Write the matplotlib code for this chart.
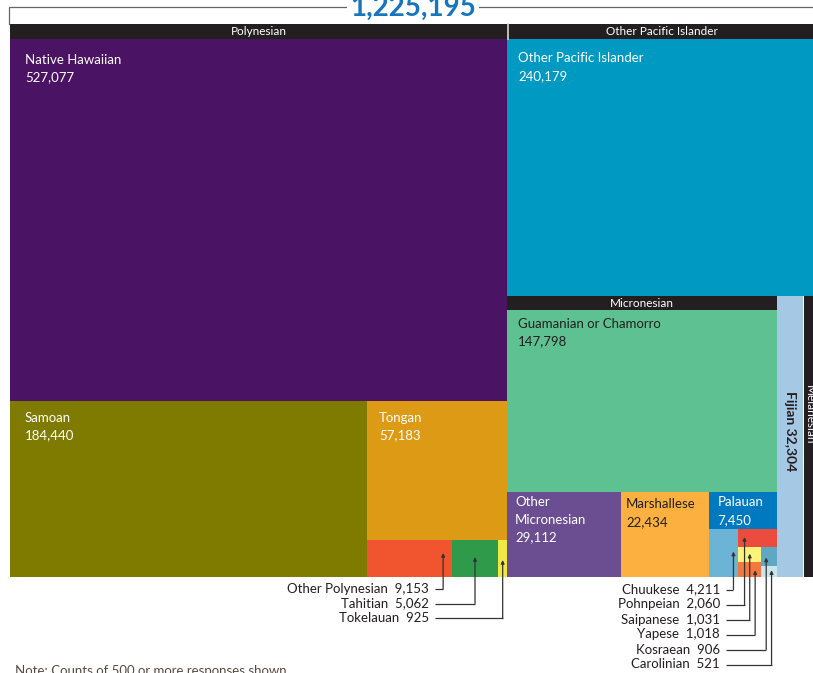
import matplotlib
matplotlib.use("Agg")
import matplotlib.pyplot as plt
from matplotlib.patches import Rectangle

plt.rcParams['font.family'] = ['Lato', 'DejaVu Sans']

# ---------------- data ----------------
total_label = "1,225,195"
note_text = "Note: Counts of 500 or more responses shown"

leaf_names = ["Native Hawaiian", "Samoan", "Tongan", "Other Polynesian", "Tahitian",
              "Tokelauan", "Other Pacific Islander", "Guamanian or Chamorro",
              "Other Micronesian", "Marshallese", "Palauan", "Chuukese", "Pohnpeian",
              "Saipanese", "Yapese", "Kosraean", "Carolinian", "Fijian"]
leaf_counts = [527077, 184440, 57183, 9153, 5062, 925, 240179, 147798,
               29112, 22434, 7450, 4211, 2060, 1031, 1018, 906, 521, 32304]
group_names = ["Polynesian", "Other Pacific Islander", "Micronesian", "Melanesian"]

counts = dict(zip(leaf_names, leaf_counts))

leaf_colors = {
    "Native Hawaiian": "#4A1363", "Samoan": "#7F7A00", "Tongan": "#DC9A15",
    "Other Polynesian": "#F05530", "Tahitian": "#2E9A4A", "Tokelauan": "#F2E843",
    "Other Pacific Islander": "#0099C2", "Guamanian or Chamorro": "#5EC191",
    "Other Micronesian": "#6A4E91", "Marshallese": "#FBB040", "Palauan": "#0079C1",
    "Chuukese": "#6CB4D6", "Pohnpeian": "#EC4C3E", "Saipanese": "#FFF37A",
    "Yapese": "#F37840", "Kosraean": "#5FA8C4", "Carolinian": "#C8E6EB",
    "Fijian": "#A5C8E4",
}
dark_text = {"Guamanian or Chamorro", "Marshallese", "Fijian"}

# treemap structure (slice-and-dice); 'h' splits left->right, 'v' splits top->bottom
tree = ('h', [
    ('group', "Polynesian", 'top', ('v', [
        "Native Hawaiian",
        ('h', ["Samoan", ('v', ["Tongan", ('h', ["Other Polynesian", "Tahitian", "Tokelauan"])])]),
    ])),
    ('v', [
        ('group', "Other Pacific Islander", 'top', "Other Pacific Islander"),
        ('h', [
            ('group', "Micronesian", 'top', ('v', [
                "Guamanian or Chamorro",
                ('h', ["Other Micronesian", "Marshallese", ('v', [
                    "Palauan",
                    ('h', ["Chuukese", ('v', [
                        "Pohnpeian",
                        ('h', [('v', ["Saipanese", "Yapese"]), ('v', ["Kosraean", "Carolinian"])]),
                    ])]),
                ])]),
            ])),
            ('group', "Melanesian", 'right', "Fijian"),
        ]),
    ]),
])


def node_value(n):
    if isinstance(n, str):
        return counts[n]
    if n[0] == 'group':
        return node_value(n[3])
    return sum(node_value(c) for c in n[1])


leaf_rects = {}
group_rects = {}
HEADER = 14.5


def layout(n, x0, y0, x1, y1):
    if isinstance(n, str):
        leaf_rects[n] = (x0, y0, x1, y1)
        return
    if n[0] == 'group':
        _, gname, side, child = n
        if side == 'top':
            group_rects[gname] = ((x0, y0, x1, y0 + HEADER), side)
            layout(child, x0, y0 + HEADER, x1, y1)
        else:
            group_rects[gname] = ((x1 - HEADER + 1, y0, x1, y1), side)
            layout(child, x0, y0, x1 - HEADER, y1)
        return
    kind, children = n
    tot = sum(node_value(c) for c in children)
    pos = x0 if kind == 'h' else y0
    for c in children:
        frac = node_value(c) / tot
        if kind == 'h':
            w = (x1 - x0) * frac
            layout(c, pos, y0, pos + w, y1)
            pos += w
        else:
            h = (y1 - y0) * frac
            layout(c, x0, pos, x1, pos + h)
            pos += h


layout(tree, 10, 24, 817, 577)

# ---------------- figure ----------------
W, H = 813, 673
fig = plt.figure(figsize=(W / 100, H / 100), dpi=100)
ax = fig.add_axes([0, 0, 1, 1])
ax.set_xlim(0, W)
ax.set_ylim(H, 0)
ax.axis('off')

for name, (x0, y0, x1, y1) in leaf_rects.items():
    ax.add_patch(Rectangle((x0, y0), x1 - x0, y1 - y0, facecolor=leaf_colors[name],
                           edgecolor='none'))

for gname, ((x0, y0, x1, y1), side) in group_rects.items():
    ax.add_patch(Rectangle((x0, y0), x1 - x0, y1 - y0, facecolor="#231F20", edgecolor='none'))
    if side == 'top':
        ax.text((x0 + x1) / 2, (y0 + y1) / 2 + 0.5, gname, color='white', fontsize=8.5,
                ha='center', va='center')
    else:
        ax.text(809, 415, gname, color='white', fontsize=8.5,
                ha='center', va='center', rotation=-90)

# thin light divider between the two top headers
px1 = group_rects["Polynesian"][0][2]
ax.plot([px1 + 0.8, px1 + 0.8], [24, 39], color="#D8D8D8", lw=1.2)

# inner labels
label_style = {
    "Native Hawaiian": (15, 21, None), "Samoan": (15, 17, None), "Tongan": (12, 17, None),
    "Other Pacific Islander": (11, 20, None), "Guamanian or Chamorro": (11, 14, None),
    "Other Micronesian": (8, 10, "Other\nMicronesian"), "Marshallese": (5, 12, None),
    "Palauan": (8, 10, None),
}
for name, (dx, dy, txt) in label_style.items():
    x0, y0, x1, y1 = leaf_rects[name]
    col = "#231F20" if name in dark_text else 'white'
    lines = (txt if txt else name).split("\n") + [f"{counts[name]:,}"]
    for i, line in enumerate(lines):
        ax.text(x0 + dx, y0 + dy + 17.5 * i, line, color=col, fontsize=9.5,
                ha='left', va='center')

# Fijian rotated label
fx0, fy0, fx1, fy1 = leaf_rects["Fijian"]
ax.text((fx0 + fx1) / 2, 431, f"Fijian {counts['Fijian']:,}", rotation=-90,
        color="#231F20", fontsize=10, fontweight='bold', ha='center', va='center')

# callouts for small boxes
callouts_left = [("Other Polynesian", 0.9, 0.35), ("Tahitian", 0.5, 0.46), ("Tokelauan", 0.5, 0.54)]
callouts_right = [("Chuukese", 0.83, 0.47), ("Pohnpeian", 0.16, 0.45), ("Saipanese", 0.5, 0.45),
                  ("Yapese", 0.74, 0.55), ("Kosraean", 0.33, 0.56), ("Carolinian", 0.67, 0.38)]


def draw_callouts(items, text_x, y_start, step):
    for i, (name, fx, fy) in enumerate(items):
        x0, y0, x1, y1 = leaf_rects[name]
        ax_x = x0 + fx * (x1 - x0)
        ax_y = y0 + fy * (y1 - y0)
        yy = y_start + step * i
        ax.text(text_x, yy, f"{name}  {counts[name]:,}", ha='right', va='center',
                fontsize=9.5, color="#231F20")
        ax.plot([text_x + 6, ax_x], [yy, yy], color="#333333", lw=0.9,
                solid_capstyle='butt')
        ax.annotate('', xy=(ax_x, ax_y), xytext=(ax_x, yy),
                    arrowprops=dict(arrowstyle='-|>', color="#333333", lw=0.9,
                                    mutation_scale=5, shrinkA=0, shrinkB=0))


draw_callouts(callouts_left, 429, 589, 14.5)
draw_callouts(callouts_right, 720, 589.5, 15)

# title bracket
ax.plot([9, 9, 813], [24, 7, 7], color="#666666", lw=0.9)
ax.text(413, 16, total_label, color="#1775BB", fontsize=20, fontweight='bold',
        ha='center', va='baseline',
        bbox=dict(facecolor='white', edgecolor='none', pad=2))

ax.text(15, 665, note_text, color="#5A4A42", fontsize=9.5, ha='left', va='top')

fig.savefig("out.png", dpi=100)
